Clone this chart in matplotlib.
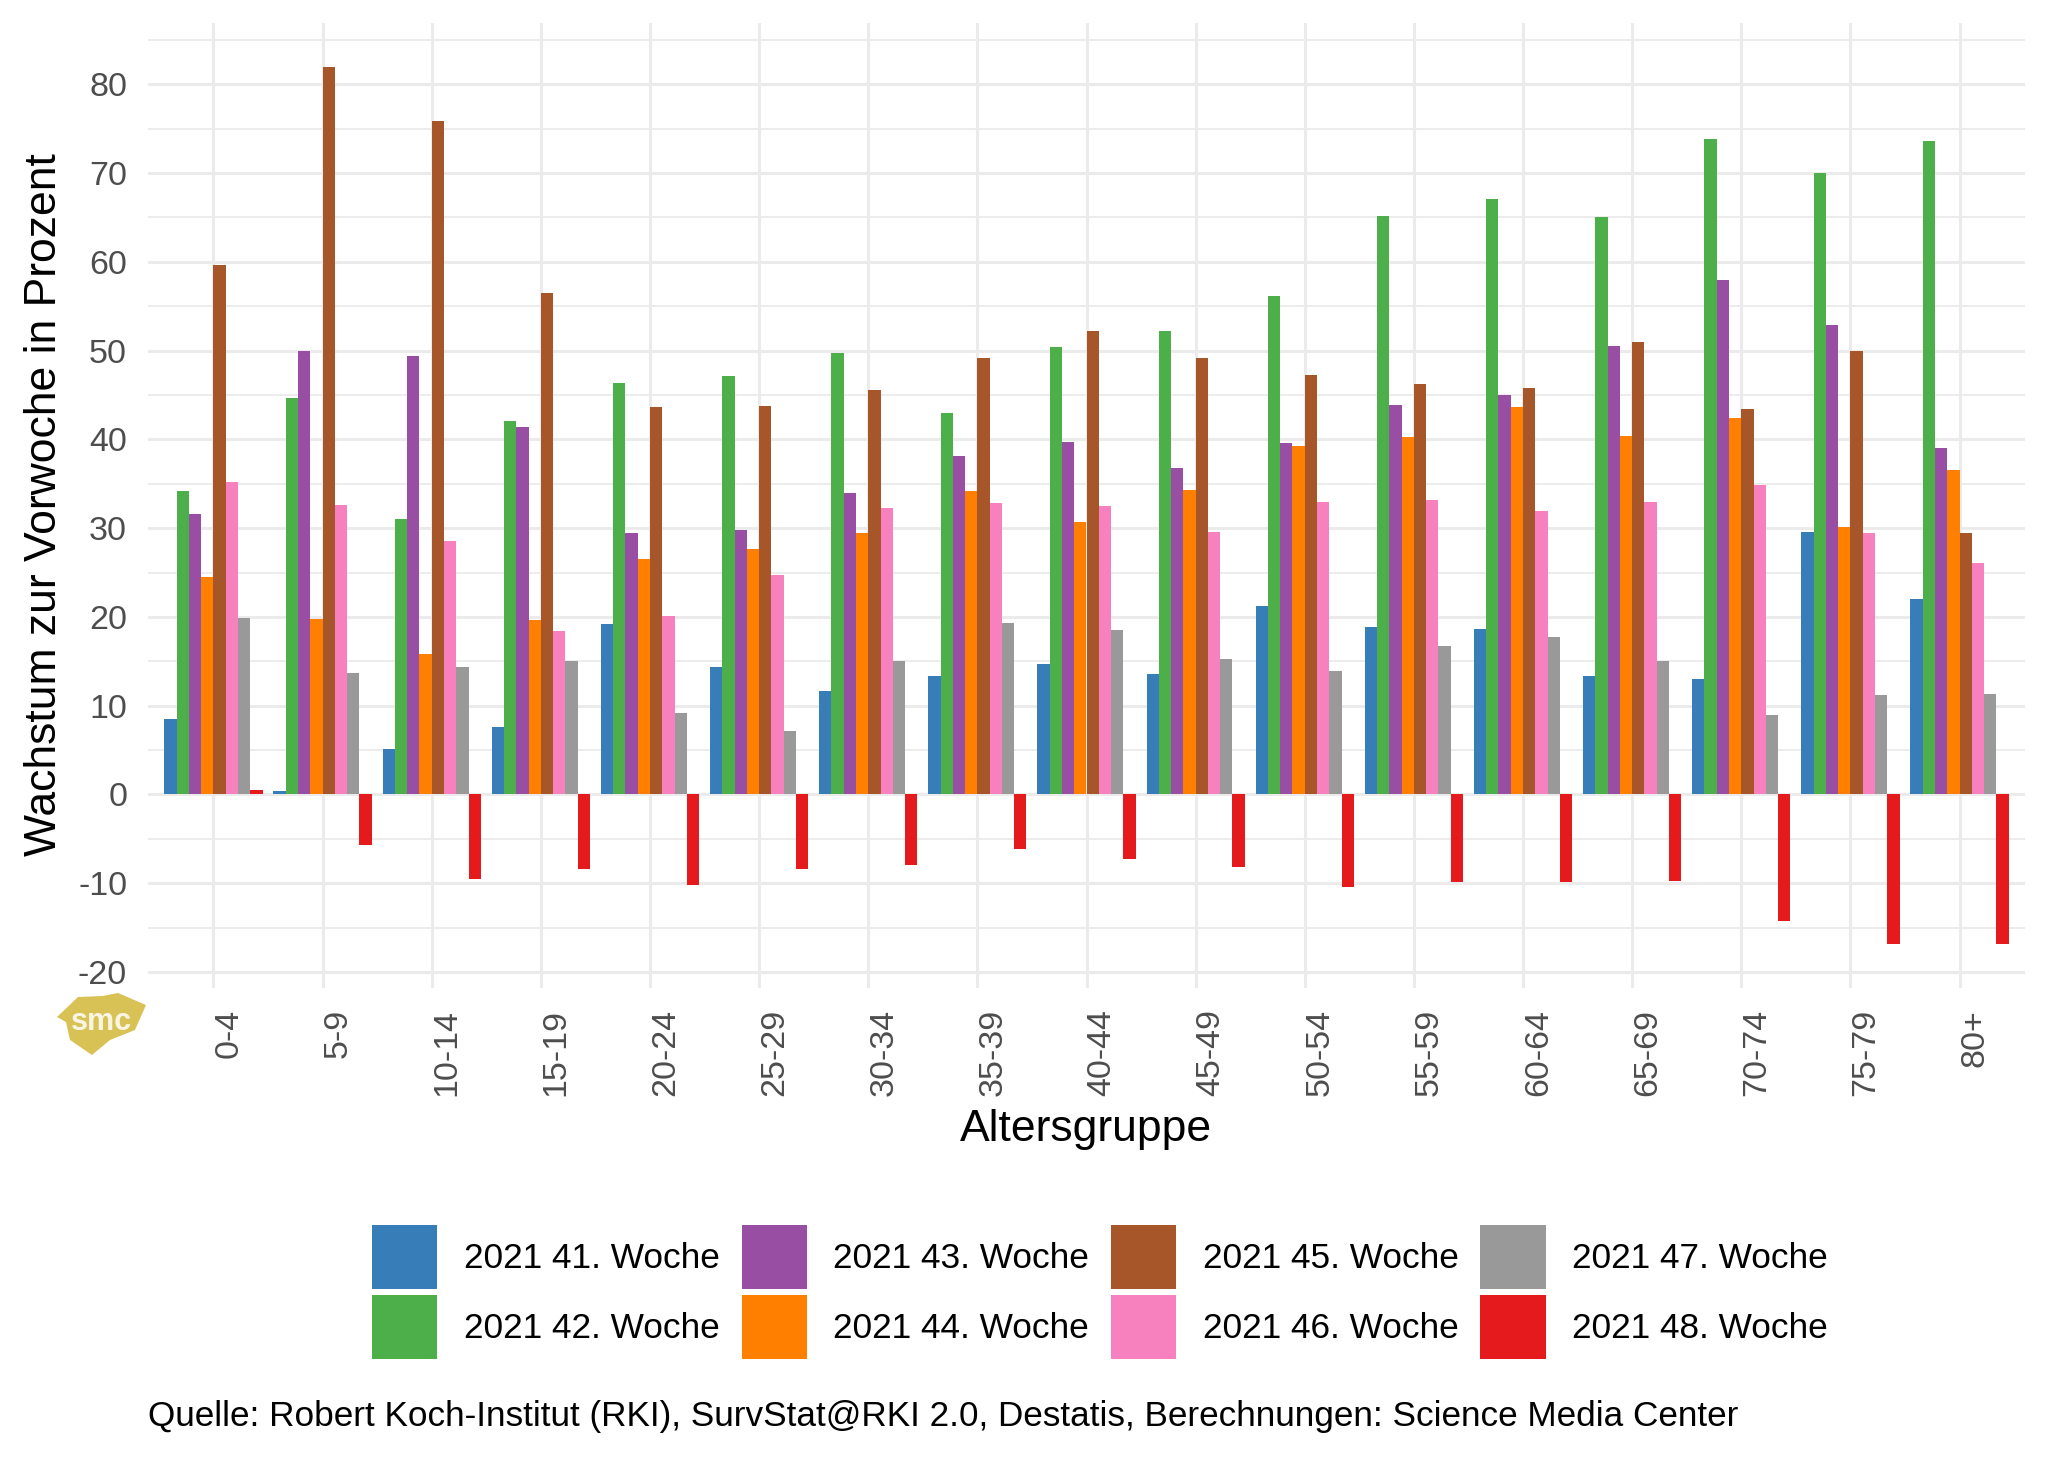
import matplotlib.pyplot as plt
from matplotlib.patches import Patch, Polygon
import numpy as np

plt.rcParams['font.family'] = ['Liberation Sans', 'DejaVu Sans']
plt.rcParams['axes.unicode_minus'] = False

# Wachstum zur Vorwoche in Prozent, je Altersgruppe und Meldewoche
age_groups = ['0-4', '5-9', '10-14', '15-19', '20-24', '25-29', '30-34', '35-39',
              '40-44', '45-49', '50-54', '55-59', '60-64', '65-69', '70-74', '75-79', '80+']
weeks = ['2021 41. Woche', '2021 42. Woche', '2021 43. Woche', '2021 44. Woche',
         '2021 45. Woche', '2021 46. Woche', '2021 47. Woche', '2021 48. Woche']

kw41 = [8.5, 0.4, 5.1, 7.6, 19.2, 14.4, 11.6, 13.3, 14.7, 13.6, 21.2, 18.9, 18.6, 13.3, 13.0, 29.6, 22.0]
kw42 = [34.2, 44.7, 31.0, 42.1, 46.3, 47.1, 49.7, 43.0, 50.4, 52.2, 56.2, 65.2, 67.1, 65.0, 73.8, 70.0, 73.6]
kw43 = [31.6, 49.9, 49.4, 41.4, 29.5, 29.8, 34.0, 38.1, 39.7, 36.8, 39.6, 43.9, 45.0, 50.5, 57.9, 52.9, 39.0]
kw44 = [24.5, 19.8, 15.8, 19.7, 26.5, 27.7, 29.5, 34.2, 30.7, 34.3, 39.2, 40.3, 43.7, 40.4, 42.4, 30.1, 36.5]
kw45 = [59.6, 82.0, 75.9, 56.5, 43.6, 43.8, 45.6, 49.2, 52.2, 49.2, 47.3, 46.2, 45.8, 51.0, 43.4, 50.0, 29.5]
kw46 = [35.2, 32.6, 28.6, 18.4, 20.1, 24.7, 32.3, 32.8, 32.5, 29.6, 33.0, 33.2, 31.9, 32.9, 34.9, 29.5, 26.1]
kw47 = [19.9, 13.7, 14.4, 15.0, 9.2, 7.2, 15.0, 19.3, 18.5, 15.3, 13.9, 16.7, 17.7, 15.0, 9.0, 11.2, 11.3]
kw48 = [0.5, -5.7, -9.5, -8.4, -10.2, -8.4, -8.0, -6.1, -7.3, -8.2, -10.4, -9.9, -9.9, -9.7, -14.2, -16.9, -16.9]

series = [kw41, kw42, kw43, kw44, kw45, kw46, kw47, kw48]
colors = ['#377EB8', '#4DAF4A', '#984EA3', '#FF7F00', '#A65628', '#F781BF', '#999999', '#E41A1C']

fig = plt.figure(figsize=(20.48, 14.62), dpi=100)
ax = fig.add_axes([148/2048, 1 - 988/1462, (2025 - 148)/2048, (988 - 23)/1462])

x = np.arange(len(age_groups))
n = len(series)
width = 0.9 / n
for i, (vals, col) in enumerate(zip(series, colors)):
    offs = -0.45 + width * (i + 0.5)
    ax.bar(x + offs, vals, width, color=col, linewidth=0, zorder=3)

ax.set_xlim(-0.6, len(age_groups) - 0.4)
ax.set_ylim(-21.8, 86.9)
ax.set_yticks(np.arange(-20, 81, 10))
ax.set_yticks(np.arange(-15, 86, 10), minor=True)
ax.set_xticks(x)
ax.set_xticklabels(age_groups, rotation=90, ha='left', va='top')

ax.grid(True, which='major', color='#EBEBEB', linewidth=2.2, zorder=0)
ax.grid(True, which='minor', axis='y', color='#EBEBEB', linewidth=1.3, zorder=0)
ax.set_axisbelow(True)
for s in ax.spines.values():
    s.set_visible(False)
ax.tick_params(which='both', length=0)
ax.tick_params(axis='y', labelsize=24.5, labelcolor='#4D4D4D', pad=15)
ax.tick_params(axis='x', labelsize=24.5, labelcolor='#4D4D4D', pad=15)

fig.text(56/2048, 1 - 505/1462, 'Wachstum zur Vorwoche in Prozent', rotation=90,
         rotation_mode='anchor', ha='center', va='baseline', fontsize=32)
fig.text(1086/2048, 1 - 1141/1462, 'Altersgruppe', ha='center', va='baseline', fontsize=32)

handles = [Patch(facecolor=c, edgecolor='none') for c in colors]
fig.legend(handles, weeks, ncol=4, loc='center', bbox_to_anchor=(1100/2048, 1 - 1292/1462),
           frameon=False, fontsize=25.4, handlelength=1.85, handleheight=2.42,
           handletextpad=0.75, columnspacing=0.62, labelspacing=0.15, borderpad=0)

fig.text(148/2048, 1 - 1426/1462,
         'Quelle: Robert Koch-Institut (RKI), SurvStat@RKI 2.0, Destatis, Berechnungen: Science Media Center',
         ha='left', va='baseline', fontsize=25.3)

# SMC-Logo (vereinfacht)
logo = [(57, 1017), (78, 997), (103, 996), (118, 993), (146, 1005), (135, 1030),
        (110, 1040), (92, 1055), (70, 1040), (66, 1022)]
fig.add_artist(Polygon([(px/2048, 1 - py/1462) for px, py in logo], closed=True,
                       transform=fig.transFigure, facecolor='#D9C255', edgecolor='none'))
fig.text(101/2048, 1 - 1022/1462, 'smc', ha='center', va='center', fontsize=22,
         color='white', fontweight='bold', alpha=0.85)

fig.savefig('out.png', dpi=100)
